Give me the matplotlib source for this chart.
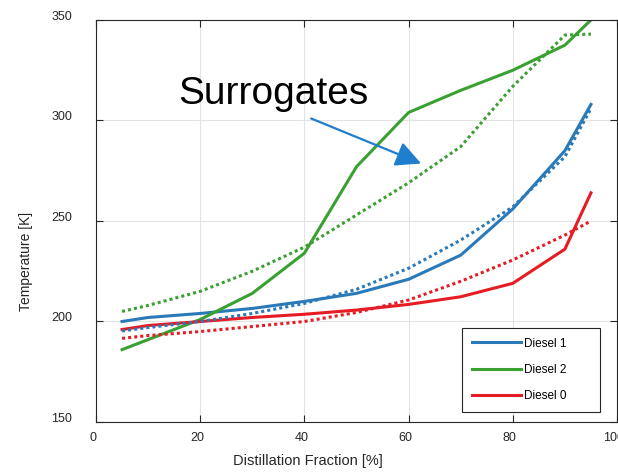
import numpy as np
from matplotlib import pyplot as plt
from matplotlib import transforms

plt.rcParams['font.family'] = ['Liberation Sans', 'DejaVu Sans']

frac = [5, 10, 20, 30, 40, 50, 60, 70, 80, 90, 95]

# measured (solid)
diesel1 = [200, 202, 204, 206.5, 210, 214, 221, 233, 256, 285, 308]
diesel2 = [186, 191, 201, 214, 234, 277, 304, 315, 325, 337.5, 350]
diesel0 = [196, 198, 200, 202, 203.6, 205.7, 208.5, 212.3, 219, 236, 264]

# surrogates (dotted)
surr1 = [195.3, 197, 200, 204, 209, 216, 226.5, 240.5, 257, 282, 306]
surr2 = [205, 208, 215, 225, 237, 253, 269, 287, 317, 342.5, 343]
surr0 = [191.6, 193, 195, 197.5, 200, 204.5, 210.7, 220, 230.6, 243, 250]

c_blue = '#2a7ab9'
c_green = '#3aa032'
c_red = '#e51c23'

fig = plt.figure(figsize=(6.18, 4.76), dpi=100)
ax = fig.add_axes([96/618, 1-422/476, 521/618, 402/476])

lw = 2.2
ax.plot(frac, diesel1, '-', color=c_blue, lw=lw, label="Diesel 1")
ax.plot(frac, diesel2, '-', color=c_green, lw=lw, label="Diesel 2")
ax.plot(frac, diesel0, '-', color=c_red, lw=lw, label="Diesel 0")
ax.plot(frac, surr1, linestyle=(0, (1, 1)), color=c_blue, lw=lw)
ax.plot(frac, surr2, linestyle=(0, (1, 1)), color=c_green, lw=lw)
ax.plot(frac, surr0, linestyle=(0, (1, 1)), color=c_red, lw=lw)

ax.annotate("", xy=(62.4, 278.6), xytext=(41.3, 301),
            arrowprops=dict(arrowstyle='-|>,head_length=0.7,head_width=0.35',
                            color='#1f7fcf', lw=1.6,
                            mutation_scale=22, shrinkA=0, shrinkB=0))
ax.text(34, 313, "Surrogates", fontsize=28, ha='center', va='center')

ax.set_xlim(0, 100)
ax.set_ylim(150, 350)
ax.set_xticks([0, 20, 40, 60, 80, 100])
ax.set_yticks([150, 200, 250, 300, 350])
ax.tick_params(direction='in', length=5, labelsize=9, colors='#262626',
               top=True, right=True)
ax.tick_params(axis='x', pad=7)
ax.tick_params(axis='y', pad=17)
shift = transforms.ScaledTranslation(-0.03, 0, fig.dpi_scale_trans)
for lbl in ax.get_xticklabels():
    lbl.set_transform(lbl.get_transform() + shift)
for lbl in ax.get_yticklabels():
    lbl.set_va('baseline')
ax.grid(color='#e3e3e3', lw=0.8)
ax.set_axisbelow(True)
for s in ax.spines.values():
    s.set_color('#262626')
    s.set_linewidth(0.8)

ax.set_xlabel("Distillation Fraction [%]", fontsize=10.5, color='#262626',
              va='center')
ax.xaxis.set_label_coords(0.407, -0.097)
ax.set_ylabel("Temperature [K]", fontsize=10, color='#262626', va='center')
ax.yaxis.set_label_coords(-0.134, 0.40)

leg = ax.legend(loc='lower left', bbox_to_anchor=(0.703, 0.025, 0.264, 0.2),
                mode='expand', fontsize=8.5,
                handlelength=4.1, handletextpad=0.3, labelspacing=1.2,
                fancybox=False, framealpha=1, edgecolor='#262626',
                borderpad=0.85, borderaxespad=0)
leg.get_frame().set_linewidth(0.8)

plt.savefig("out.png", dpi=100)
plt.close()
